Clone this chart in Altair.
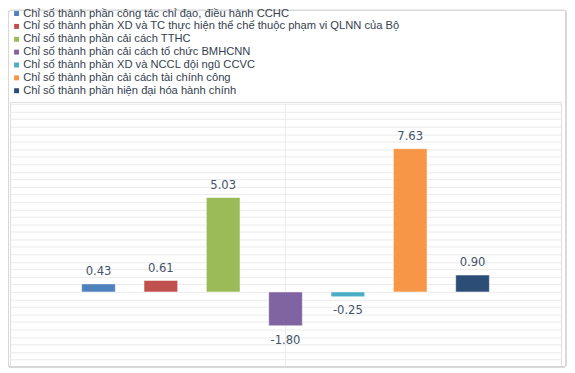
import altair as alt
import pandas as pd

categories = [
    "Chỉ số thành phần công tác chỉ đạo, điều hành CCHC",
    "Chỉ số thành phần XD và TC thực hiện thể chế thuộc phạm vi QLNN của Bộ",
    "Chỉ số thành phần cải cách TTHC",
    "Chỉ số thành phần cải cách tổ chức BMHCNN",
    "Chỉ số thành phần XD và NCCL đội ngũ CCVC",
    "Chỉ số thành phần cải cách tài chính công",
    "Chỉ số thành phần hiện đại hóa hành chính",
]
values = [0.43, 0.61, 5.03, -1.80, -0.25, 7.63, 0.90]
labels = ["0.43", "0.61", "5.03", "-1.80", "-0.25", "7.63", "0.90"]
colors = ["#4F81BD", "#C0504D", "#9BBB59", "#8064A2", "#4BACC6", "#F79646", "#2C4D75"]
grid_values = [round(-3.6 + 0.4 * i, 1) for i in range(35)]

df = pd.DataFrame({"cat": categories, "v": values, "lab": labels})

W, H = 557, 267
LEFT, TOP = 2, 93

xs = alt.X("cat:N", sort=categories, axis=None,
           scale=alt.Scale(paddingInner=0.16, paddingOuter=1))
ys = alt.Y("v:Q", scale=alt.Scale(domain=[-3.95, 10.12], nice=False, zero=False),
           axis=alt.Axis(values=grid_values, labels=False, ticks=False, domain=False,
                         title=None, grid=True, gridColor="#ebebeb", gridWidth=1))

bars = alt.Chart(df).mark_bar(size=34, stroke="white", strokeWidth=0.5).encode(
    x=xs, y=ys, y2=alt.datum(0),
    color=alt.Color("cat:N", sort=categories,
                    scale=alt.Scale(domain=categories, range=colors),
                    legend=alt.Legend(title=None, orient="none", legendX=1, legendY=-95,
                                      symbolType="square", symbolSize=25,
                                      symbolStrokeWidth=0, labelFont="Liberation Sans",
                                      labelFontSize=11.3, labelColor="#34414F",
                                      labelLimit=600, rowPadding=1, labelOffset=1,
                                      symbolOffset=0, padding=0)),
)

vrule = alt.Chart(df).mark_rule(color="#ececec", strokeWidth=1).encode(
    x=alt.value(W / 2), y=alt.value(0), y2=alt.value(H)
)

txt_style = dict(font="Liberation Sans Narrow, DejaVu Sans Condensed, Roboto",
                 fontSize=13, color="#44546A", baseline="middle", align="center")
pos_text = alt.Chart(df).transform_filter("datum.v >= 0").mark_text(dy=-13, **txt_style).encode(
    x=xs, y=ys, text="lab:N")
neg_text = alt.Chart(df).transform_filter("datum.v < 0").mark_text(dy=14, **txt_style).encode(
    x=xs, y=ys, text="lab:N")

frame = alt.Chart(df).mark_rect(fill=None, stroke="#d9d9d9", strokeWidth=1, clip=False,
                                cornerRadius=2).encode(
    x=alt.value(-LEFT + 0.5), x2=alt.value(564 - LEFT),
    y=alt.value(-TOP + 0.5), y2=alt.value(361 - TOP)
)

chart = alt.layer(vrule, frame, bars, pos_text, neg_text).properties(
    width=W, height=H,
    autosize=alt.AutoSizeParams(type="none"),
    padding={"left": LEFT, "top": TOP, "right": 6, "bottom": 4},
).configure_view(stroke="#d9d9d9", strokeWidth=1).configure(background="white")

chart.save("out.html", embed_options={"renderer": "svg", "actions": False})
